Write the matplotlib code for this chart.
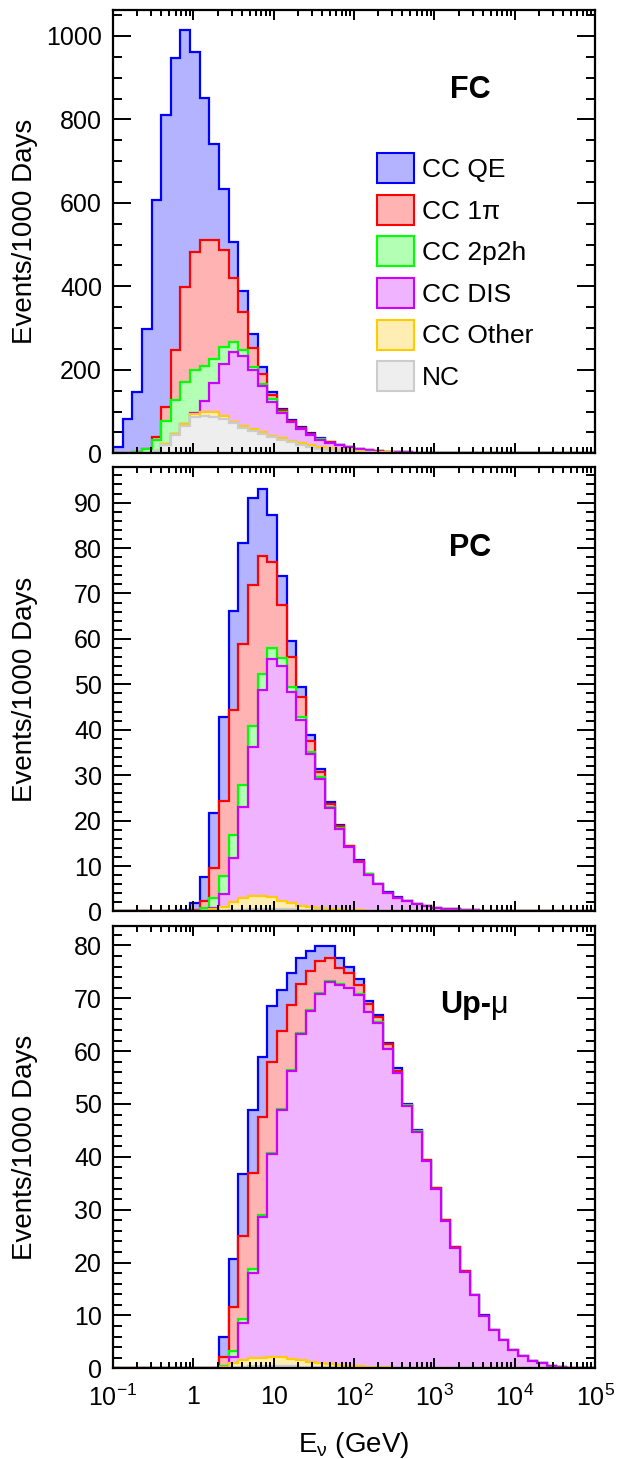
import numpy as np
import matplotlib
matplotlib.use("Agg")
import matplotlib.pyplot as plt
from matplotlib.patches import Patch
from matplotlib.ticker import MultipleLocator, LogLocator, FixedLocator, NullFormatter

plt.rcParams['font.family'] = ['Liberation Sans', 'DejaVu Sans']
plt.rcParams['mathtext.fontset'] = 'custom'
plt.rcParams['mathtext.rm'] = 'Liberation Sans'
plt.rcParams['mathtext.it'] = 'Liberation Sans:italic'
plt.rcParams['mathtext.bf'] = 'Liberation Sans:bold'

# 50 log bins from 0.1 GeV to 1e5 GeV
edges = np.logspace(-1, 5, 51)

# events / 1000 days per bin, one list per interaction channel
# ---- FC ----
fc_qe = [16, 82, 143, 287, 569, 700, 698, 616, 480, 340,
         232, 146, 86, 52, 34, 17, 8, 3, 3, 3,
         2, 1.5, 1, 0.7, 0.5, 0.3, 0.2, 0.1, 0.1, 0.1,
         0.05, 0.05, 0.03, 0.02, 0.01, 0, 0, 0, 0, 0,
         0, 0, 0, 0, 0, 0, 0, 0, 0, 0]
fc_1pi = [0, 0, 0, 1, 6, 32, 120, 226, 282, 302,
          284, 234, 154, 90, 46, 24, 10, 4, 2, 1,
          1, 1, 0.8, 0.5, 0.3, 0.2, 0.1, 0.1, 0.05, 0.05,
          0.03, 0.02, 0.01, 0.01, 0.01, 0, 0, 0, 0, 0,
          0, 0, 0, 0, 0, 0, 0, 0, 0, 0]
fc_2p2h = [0, 0, 3, 9, 26, 56, 81, 101, 104, 84,
           58, 40, 24, 16, 6, 4, 6, 3, 1, 1,
           1, 0.5, 0.7, 0.3, 0.2, 0.2, 0.1, 0.1, 0.05, 0.05,
           0.02, 0.02, 0.01, 0.01, 0.01, 0, 0, 0, 0, 0,
           0, 0, 0, 0, 0, 0, 0, 0, 0, 0]
fc_dis = [0, 0, 0, 0, 0, 0, 1, 1, 2, 28,
          70, 124, 166, 166, 142, 112, 82, 61, 44, 33,
          24, 17, 12.5, 10.5, 7, 4.8, 3.0, 2.2, 1.9, 1.5,
          1.2, 0.9, 0.7, 0.55, 0.39, 0.28, 0.2, 0.14, 0.1, 0.07,
          0.05, 0.04, 0.03, 0.02, 0.015, 0.01, 0.01, 0.01, 0.01, 0.01]
fc_other = [0, 0, 0, 0, 0, 2, 2, 4, 8, 8,
            10, 8, 4, 6, 4, 4, 4, 4, 4, 5,
            6, 5, 4, 3, 2.5, 1.7, 1.3, 0.9, 0.7, 0.5,
            0.35, 0.25, 0.15, 0.1, 0.08, 0.06, 0.04, 0.03, 0.02, 0.01,
            0, 0, 0, 0, 0, 0, 0, 0, 0, 0]
fc_nc = [0, 0, 0, 1, 6, 20, 44, 66, 86, 90,
         88, 82, 72, 60, 54, 46, 38, 32, 26, 20,
         14, 11, 8, 6, 4.5, 3.3, 2.5, 1.9, 1.4, 1.0,
         0.75, 0.55, 0.4, 0.3, 0.2, 0.14, 0.1, 0.07, 0.05, 0.03,
         0.02, 0.01, 0, 0, 0, 0, 0, 0, 0, 0]

# ---- PC ----
pc_qe = [0, 0, 0, 0, 0, 0, 0, 0.3, 1.4, 5.2,
         12.1, 18.6, 21.8, 22.1, 19.3, 14.7, 10.3, 6.3, 3.6, 2.1,
         1.2, 0.6, 0.3, 0.2, 0.1, 0.1, 0.05, 0.05, 0.05, 0.05,
         0.05, 0.02, 0.02, 0.01, 0.01, 0, 0, 0, 0, 0,
         0, 0, 0, 0, 0, 0, 0, 0, 0, 0]
pc_1pi = [0, 0, 0, 0, 0, 0, 0, 0, 0.3, 1.5,
          6.6, 16.6, 27.5, 31.1, 31.0, 26.0, 19.1, 11.7, 6.5, 4.4,
          2.4, 1.2, 0.8, 0.5, 0.1, 0.2, 0.05, 0.05, 0.05, 0.05,
          0.05, 0, 0, 0, 0, 0, 0, 0, 0, 0,
          0, 0, 0, 0, 0, 0, 0, 0, 0, 0]
pc_2p2h = [0, 0, 0, 0, 0, 0, 0, 0, 0.1, 0.7,
           2.2, 3.9, 5.1, 4.9, 4.5, 3.5, 2.4, 1.8, 1.1, 0.6,
           0.5, 0.4, 0.2, 0.1, 0.05, 0.1, 0.05, 0, 0, 0,
           0, 0, 0, 0, 0, 0, 0, 0, 0, 0,
           0, 0, 0, 0, 0, 0, 0, 0, 0, 0]
pc_dis = [0, 0, 0, 0, 0, 0, 0, 0, 0, 0,
          0.1, 2.8, 9.7, 20.0, 32.8, 45.2, 52.4, 51.6, 46.6, 41.0,
          33.8, 28.5, 22.1, 17.8, 13.8, 10.6, 7.9, 5.8, 4.0, 2.9,
          2.2, 1.65, 1.28, 0.84, 0.59, 0.44, 0.34, 0.24, 0.18, 0.12,
          0.08, 0.05, 0.03, 0.02, 0.01, 0.01, 0.01, 0.01, 0.01, 0.01]
pc_other = [0, 0, 0, 0, 0, 0, 0, 0, 0, 0.1,
            0.5, 0.8, 1.7, 2.5, 3.0, 2.9, 2.5, 1.9, 1.35, 0.9,
            0.6, 0.45, 0.4, 0.3, 0.23, 0.15, 0.12, 0.09, 0.05, 0.04,
            0.03, 0, 0, 0, 0, 0, 0, 0, 0, 0,
            0, 0, 0, 0, 0, 0, 0, 0, 0, 0]
pc_nc = [0, 0, 0, 0, 0, 0, 0, 0, 0, 0,
         0.1, 0.2, 0.3, 0.4, 0.5, 0.6, 0.6, 0.5, 0.45, 0.35,
         0.3, 0.25, 0.2, 0.15, 0.12, 0.1, 0.08, 0.06, 0.05, 0.04,
         0.03, 0, 0, 0, 0, 0, 0, 0, 0, 0,
         0, 0, 0, 0, 0, 0, 0, 0, 0, 0]

# ---- Up-mu ----
up_qe = [0, 0, 0, 0, 0, 0, 0, 0, 0, 0,
         0.1, 3.9, 9.2, 11.8, 11.9, 11.3, 10.5, 7.8, 6.0, 5.0,
         3.8, 2.9, 2.2, 1.9, 1.1, 1.0, 0.6, 0.5, 0.3, 0.4,
         0.2, 0.2, 0.1, 0.1, 0.05, 0.05, 0.05, 0.05, 0.05, 0.05,
         0.05, 0.05, 0.03, 0.02, 0.02, 0.01, 0, 0, 0, 0]
up_1pi = [0, 0, 0, 0, 0, 0, 0, 0, 0, 0,
          0, 1.6, 8.3, 15.7, 18.1, 18.5, 17.2, 14.8, 12.4, 9.3,
          7.4, 6.0, 4.4, 3.0, 2.8, 1.8, 1.4, 1.0, 0.8, 0.4,
          0.1, 0.1, 0.1, 0.1, 0.05, 0.05, 0.05, 0.05, 0.05, 0.05,
          0.05, 0.02, 0.02, 0.01, 0.01, 0, 0, 0, 0, 0]
up_2p2h = [0, 0, 0, 0, 0, 0, 0, 0, 0, 0,
           0, 0.3, 1.0, 0.8, 0.7, 0.4, 0.2, 0.2, 0.1, 0.1,
           0.1, 0.1, 0.1, 0.1, 0.1, 0.1, 0.1, 0.1, 0.1, 0.1,
           0.05, 0.05, 0.03, 0.02, 0.01, 0, 0, 0, 0, 0,
           0, 0, 0, 0, 0, 0, 0, 0, 0, 0]
up_dis = [0, 0, 0, 0, 0, 0, 0, 0, 0, 0,
          0, 0.05, 1.2, 7.0, 16.2, 26.6, 38.4, 46.7, 54.5, 61.8,
          66.4, 69.9, 72.3, 71.9, 71.4, 70.3, 67.1, 65.1, 60.2, 55.7,
          49.6, 44.7, 39.2, 33.9, 27.9, 22.8, 18.3, 13.8, 9.9, 7.2,
          5.3, 3.4, 2.25, 1.35, 0.9, 0.47, 0.23, 0.11, 0.055, 0.028]
up_other = [0, 0, 0, 0, 0, 0, 0, 0, 0, 0,
            0, 0.1, 0.8, 1.2, 1.55, 1.6, 1.8, 1.7, 1.45, 1.2,
            0.95, 0.8, 0.65, 0.53, 0.4, 0.32, 0.24, 0.17, 0.12, 0.09,
            0.06, 0.04, 0.03, 0.03, 0, 0, 0, 0, 0, 0,
            0, 0, 0, 0, 0, 0, 0, 0, 0, 0]
up_nc = [0, 0, 0, 0, 0, 0, 0, 0, 0, 0,
         0, 0.05, 0.2, 0.3, 0.35, 0.4, 0.4, 0.4, 0.35, 0.3,
         0.25, 0.2, 0.15, 0.12, 0.1, 0.08, 0.06, 0.05, 0.04, 0.03,
         0.02, 0.02, 0.01, 0, 0, 0, 0, 0, 0, 0,
         0, 0, 0, 0, 0, 0, 0, 0, 0, 0]

channels = ["CC QE", "CC 1π", "CC 2p2h", "CC DIS", "CC Other", "NC"]
line_colors = ["#0000ff", "#ff0000", "#00ff00", "#cc00ff", "#ffcc00", "#cccccc"]
fill_colors = ["#b3b3ff", "#ffb3b3", "#b3ffb3", "#f0b3ff", "#ffeeb3", "#eeeeee"]

x_ticks = [0.1, 1, 10, 100, 1e3, 1e4, 1e5]
x_tick_labels = [r"$\mathregular{10^{-1}}$", "1", "10", r"$\mathregular{10^{2}}$",
                 r"$\mathregular{10^{3}}$", r"$\mathregular{10^{4}}$", r"$\mathregular{10^{5}}$"]

panels = [
    ("FC", [fc_qe, fc_1pi, fc_2p2h, fc_dis, fc_other, fc_nc], 1062, 200, 50),
    ("PC", [pc_qe, pc_1pi, pc_2p2h, pc_dis, pc_other, pc_nc], 97.8, 10, 2),
    ("Up-", [up_qe, up_1pi, up_2p2h, up_dis, up_other, up_nc], 83.7, 10, 2),
]
positions = [[0.1814, 0.6893, 0.7737, 0.3038],
             [0.1814, 0.3753, 0.7737, 0.3045],
             [0.1814, 0.0622, 0.7737, 0.3032]]

fig = plt.figure(figsize=(6.23, 14.59), dpi=100)

for k, (name, chans, ymax, major, minor) in enumerate(panels):
    ax = fig.add_axes(positions[k])
    # stack from NC (bottom) up to CC QE (top), draw top layer first
    stack = np.cumsum(np.array(chans[::-1], dtype=float), axis=0)[::-1]
    for i in range(len(chans)):
        ax.stairs(stack[i], edges, baseline=0, fill=True,
                  facecolor=fill_colors[i], edgecolor=line_colors[i], linewidth=1.6)

    ax.set_xscale('log')
    ax.set_xlim(0.1, 1e5)
    ax.set_ylim(0, ymax)
    ax.xaxis.set_major_locator(FixedLocator(x_ticks))
    ax.xaxis.set_minor_locator(LogLocator(base=10, subs=np.arange(2, 10), numticks=100))
    ax.xaxis.set_minor_formatter(NullFormatter())
    ax.yaxis.set_major_locator(MultipleLocator(major))
    ax.yaxis.set_minor_locator(MultipleLocator(minor))
    if k == 2:
        ax.set_xticklabels(x_tick_labels)
    else:
        ax.set_xticklabels([])

    for sp in ax.spines.values():
        sp.set_linewidth(1.6)
    ax.tick_params(which='both', direction='in', top=True, right=True, width=1.4,
                   labelsize=18)
    ax.tick_params(axis='x', which='major', length=7.5, pad=12)
    ax.tick_params(axis='x', which='minor', length=4)
    ax.tick_params(axis='y', which='major', length=13, pad=8)
    ax.tick_params(axis='y', which='minor', length=6.5)

    ax.set_ylabel("Events/1000 Days", fontsize=20)
    ax.yaxis.set_label_coords(-0.155, 0.5)

    if name == "Up-":
        t = ax.text(0.678, 0.803, "Up-", transform=ax.transAxes, fontsize=22,
                    fontweight='bold', ha='left', va='baseline')
        ax.annotate("μ", xy=(1, 0), xycoords=t, fontsize=22, ha='left', va='bottom')
    else:
        ax.text(0.741, 0.801, name, transform=ax.transAxes, fontsize=22,
                fontweight='bold', ha='center', va='baseline')

    if k == 0:
        handles = [Patch(facecolor=fill_colors[i], edgecolor=line_colors[i], linewidth=1.5)
                   for i in range(len(channels))]
        ax.legend(handles, channels, loc='upper left', bbox_to_anchor=(0.548, 0.677),
                  frameon=False, fontsize=19, handlelength=1.4, handleheight=1.37,
                  labelspacing=0.44, handletextpad=0.3, borderpad=0, borderaxespad=0)

    if k == 2:
        ax.set_xlabel(r"$\mathregular{E_{\nu}}$ (GeV)", fontsize=20)
        ax.xaxis.set_label_coords(0.5, -0.14)

fig.savefig("out.png", dpi=100)
